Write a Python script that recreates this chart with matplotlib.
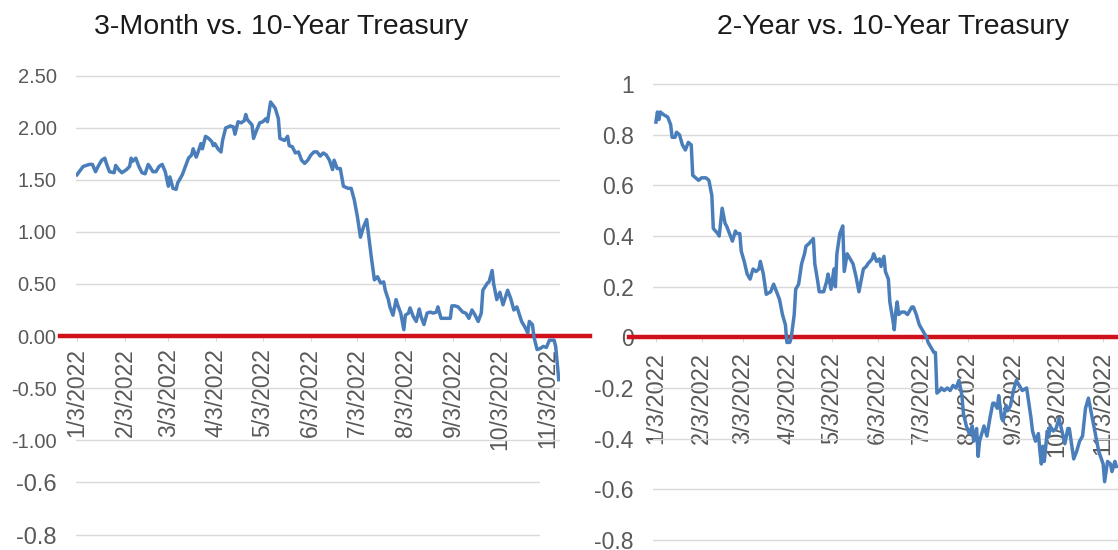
import matplotlib

matplotlib.use("Agg")
import matplotlib.pyplot as plt
import pandas as pd

W, H = 1118, 550
START = pd.Timestamp("2022-01-03")

BLUE = "#4A7EBB"
RED = "#D0111B"
GRID = "#D9D9D9"
LABEL = "#595959"
TITLE = "#1A1A1A"

plt.rcParams["font.family"] = ["Liberation Sans", "DejaVu Sans"]

# 3-month vs 10-year spread, trading days counted from 1/3/2022
days_3m = [
    0, 4, 8, 10, 12, 14, 16, 18, 19, 21,
    24, 25, 27, 29, 32, 34, 35, 36, 38, 40,
    42, 44, 46, 47, 49, 51, 53, 55, 57, 59,
    60, 62, 64, 65, 68, 70, 72, 74, 75, 77,
    78, 80, 81, 83, 85, 87, 88, 89, 91, 93,
    94, 96, 99, 101, 102, 104, 106, 108, 109, 110,
    113, 114, 116, 118, 120, 122, 123, 125, 128, 130,
    131, 134, 136, 137, 139, 141, 143, 145, 147, 149,
    151, 153, 155, 157, 159, 161, 163, 165, 166, 168,
    170, 172, 175, 177, 179, 181, 183, 185, 187, 190,
    192, 194, 196, 198, 199, 201, 202, 204, 206, 207,
    209, 211, 212, 214, 215, 217, 219, 221, 222, 224,
    226, 228, 230, 232, 233, 235, 238, 241, 242, 244,
    246, 249, 251, 253, 255, 257, 259, 261, 262, 265,
    266, 268, 269, 271, 273, 275, 278, 280, 282, 284,
    287, 289, 291, 292, 294, 295, 297, 299, 301, 303,
    305, 308, 309, 310, 311,
]
spread_3m = [
    1.55, 1.63, 1.65, 1.65, 1.58, 1.64, 1.69, 1.71, 1.66, 1.58,
    1.57, 1.64, 1.60, 1.57, 1.60, 1.63, 1.71, 1.68, 1.71, 1.63,
    1.57, 1.56, 1.65, 1.63, 1.58, 1.58, 1.63, 1.65, 1.58, 1.44,
    1.53, 1.42, 1.41, 1.47, 1.55, 1.63, 1.71, 1.74, 1.80, 1.72,
    1.76, 1.85, 1.80, 1.92, 1.90, 1.87, 1.83, 1.85, 1.80, 1.77,
    1.88, 2.00, 2.02, 2.01, 1.94, 2.06, 2.05, 2.07, 2.13, 2.08,
    2.03, 1.90, 1.98, 2.05, 2.06, 2.09, 2.06, 2.25, 2.19, 2.09,
    1.90, 1.88, 1.92, 1.83, 1.82, 1.76, 1.77, 1.69, 1.66, 1.69,
    1.74, 1.77, 1.77, 1.73, 1.76, 1.74, 1.69, 1.60, 1.69, 1.61,
    1.61, 1.44, 1.42, 1.42, 1.31, 1.15, 0.95, 1.05, 1.12, 0.76,
    0.54, 0.57, 0.51, 0.52, 0.44, 0.35, 0.28, 0.20, 0.35, 0.30,
    0.22, 0.06, 0.20, 0.22, 0.27, 0.19, 0.14, 0.26, 0.19, 0.11,
    0.22, 0.23, 0.22, 0.23, 0.28, 0.17, 0.17, 0.17, 0.29, 0.29,
    0.28, 0.23, 0.22, 0.17, 0.25, 0.20, 0.14, 0.22, 0.44, 0.51,
    0.52, 0.63, 0.50, 0.35, 0.42, 0.30, 0.44, 0.36, 0.25, 0.28,
    0.14, 0.09, 0.03, 0.14, 0.11, -0.01, -0.13, -0.12, -0.10, -0.11,
    -0.04, -0.04, -0.10, -0.26, -0.42,
]

# 2-year vs 10-year spread
days_2y = [
    0, 1, 2, 3, 5, 8, 10, 11, 13, 14,
    16, 18, 20, 22, 24, 25, 27, 29, 31, 34,
    36, 38, 39, 42, 43, 45, 47, 48, 50, 52,
    54, 55, 57, 58, 60, 62, 64, 66, 68, 70,
    71, 73, 74, 75, 78, 80, 82, 84, 86, 88,
    89, 91, 92, 94, 95, 97, 99, 101, 102, 104,
    107, 108, 110, 111, 114, 116, 117, 119, 121, 122,
    123, 125, 127, 128, 130, 132, 134, 136, 138, 141,
    143, 144, 147, 148, 150, 152, 153, 155, 156, 158,
    159, 161, 162, 163, 164, 165, 167, 169, 171, 174,
    175, 177, 179, 181, 184, 185, 187, 189, 190, 191,
    193, 194, 196, 198, 200, 202, 204, 206, 208, 209,
    211, 213, 215, 216, 218, 219, 220, 221, 223, 225,
    227, 229, 230, 232, 233, 235, 236, 238, 239, 241,
    243, 245, 247, 249, 252, 253, 255, 256, 258, 260,
    261, 262, 263, 264, 266, 267, 268, 270, 272, 274,
    276, 278, 280, 281, 284, 286, 288, 290, 292, 294,
    296, 298, 301, 304, 305, 307, 309, 310, 312, 313,
]
spread_2y = [
    0.85, 0.89, 0.86, 0.89, 0.88, 0.87, 0.84, 0.79, 0.79, 0.81,
    0.80, 0.76, 0.74, 0.77, 0.76, 0.64, 0.63, 0.62, 0.63, 0.63,
    0.62, 0.56, 0.43, 0.41, 0.40, 0.51, 0.45, 0.44, 0.41, 0.38,
    0.42, 0.41, 0.41, 0.34, 0.30, 0.25, 0.23, 0.27, 0.26, 0.27,
    0.30, 0.25, 0.21, 0.17, 0.18, 0.21, 0.18, 0.15, 0.09, 0.05,
    -0.02, -0.02, 0.00, 0.09, 0.19, 0.21, 0.29, 0.33, 0.36, 0.37,
    0.39, 0.29, 0.22, 0.18, 0.18, 0.22, 0.25, 0.19, 0.27, 0.20,
    0.33, 0.41, 0.44, 0.26, 0.33, 0.31, 0.29, 0.24, 0.18, 0.27,
    0.28, 0.29, 0.31, 0.33, 0.30, 0.31, 0.28, 0.32, 0.26, 0.23,
    0.14, 0.07, 0.03, 0.10, 0.14, 0.09, 0.10, 0.10, 0.09, 0.12,
    0.12, 0.09, 0.05, 0.03, 0.00, -0.02, -0.04, -0.06, -0.06, -0.22,
    -0.21, -0.20, -0.21, -0.20, -0.21, -0.19, -0.20, -0.17, -0.23, -0.30,
    -0.35, -0.38, -0.35, -0.41, -0.36, -0.47, -0.41, -0.39, -0.35, -0.39,
    -0.32, -0.26, -0.26, -0.28, -0.23, -0.32, -0.33, -0.27, -0.29, -0.27,
    -0.21, -0.17, -0.19, -0.21, -0.20, -0.24, -0.32, -0.37, -0.41, -0.38,
    -0.45, -0.50, -0.43, -0.49, -0.37, -0.39, -0.35, -0.37, -0.36, -0.32,
    -0.37, -0.42, -0.36, -0.36, -0.48, -0.45, -0.41, -0.39, -0.28, -0.24,
    -0.30, -0.36, -0.45, -0.50, -0.57, -0.49, -0.50, -0.53, -0.49, -0.51,
]

tick_dates = [pd.Timestamp(2022, m, 3) for m in range(1, 12)]
tick_labels = [f"{d.month}/{d.day}/{d.year}" for d in tick_dates]

yticks_3m = [2.5, 2.0, 1.5, 1.0, 0.5, 0.0, -0.5, -1.0]
ylabels_3m = ["2.50", "2.00", "1.50", "1.00", "0.50", "0.00", "-0.50", "-1.00"]
yticks_2y = [1.0, 0.8, 0.6, 0.4, 0.2, 0.0, -0.2, -0.4, -0.6, -0.8]
ylabels_2y = ["1", "0.8", "0.6", "0.4", "0.2", "0", "-0.2", "-0.4", "-0.6", "-0.8"]
yticks_tail = [-0.6, -0.8]
ylabels_tail = ["-0.6", "-0.8"]


def to_dates(days):
    return START + pd.to_timedelta(days, unit="D")


def axes_px(fig, x0, y0, x1, y1):
    return fig.add_axes([x0 / W, 1 - y1 / H, (x1 - x0) / W, (y1 - y0) / H])


def style(ax, yticks, ylabels, ysize, xsize, xpad):
    for s in ax.spines.values():
        s.set_visible(False)
    ax.spines["bottom"].set_position(("data", 0))
    ax.set_yticks(yticks, labels=ylabels)
    ax.grid(axis="y", color=GRID, lw=1)
    ax.set_axisbelow(True)
    ax.tick_params(axis="y", length=0, pad=14, labelsize=ysize, labelcolor=LABEL)
    ax.set_xticks(tick_dates, labels=tick_labels, rotation=90)
    ax.tick_params(axis="x", length=3.6, width=0.8, color=GRID, pad=xpad,
                   labelsize=xsize, labelcolor=LABEL)


def zero_line(ax, x_from, x_to, ax_x0, ax_x1):
    w = ax_x1 - ax_x0
    ax.axhline(0, (x_from - ax_x0) / w, (x_to - ax_x0) / w, color=RED, lw=3.2,
               clip_on=False, zorder=4)


fig = plt.figure(figsize=(W / 100, H / 100), dpi=100, facecolor="white")

# left chart: 3-month vs 10-year
ax1 = axes_px(fig, 76, 70.8, 560, 445.2)
ax1.plot(to_dates(days_3m), spread_3m, color=BLUE, lw=2.5, zorder=5,
         solid_joinstyle="round")
ax1.set_ylim(-1.05, 2.55)
ax1.set_xlim(to_dates([-0.6])[0], to_dates([311.8])[0])
style(ax1, yticks_3m, ylabels_3m, 14.5, 16.5, 5)
zero_line(ax1, 60, 590, 76, 560)

# piece of another chart peeking out below the left one
ax3 = axes_px(fig, 76, 455, 540, 548)
ax3.set_ylim(-0.849, -0.498)
ax3.set_xticks([])
for s in ax3.spines.values():
    s.set_visible(False)
ax3.set_yticks(yticks_tail, labels=ylabels_tail)
ax3.grid(axis="y", color=GRID, lw=1)
ax3.tick_params(axis="y", length=0, pad=14, labelsize=17, labelcolor=LABEL)

# right chart: 2-year vs 10-year (0 at y=337, -0.8 at y=540)
ax2 = axes_px(fig, 653, 74.0, 1118, 545.0)
ax2.plot(to_dates(days_2y), spread_2y, color=BLUE, lw=2.5, zorder=5,
         solid_joinstyle="round")
ax2.set_ylim(-0.82, 1.04)
ax2.set_xlim(to_dates([-2.0])[0], to_dates([314.1])[0])
style(ax2, yticks_2y, ylabels_2y, 16.5, 17, 7)
zero_line(ax2, 629, 1118, 653, 1118)

fig.text(281 / W, 1 - 34 / H, "3-Month vs. 10-Year Treasury", ha="center",
         va="baseline", fontsize=20.5, color=TITLE)
fig.text(893 / W, 1 - 34 / H, "2-Year vs. 10-Year Treasury", ha="center",
         va="baseline", fontsize=20.5, color=TITLE)

fig.savefig("out.png", dpi=100, facecolor="white")
